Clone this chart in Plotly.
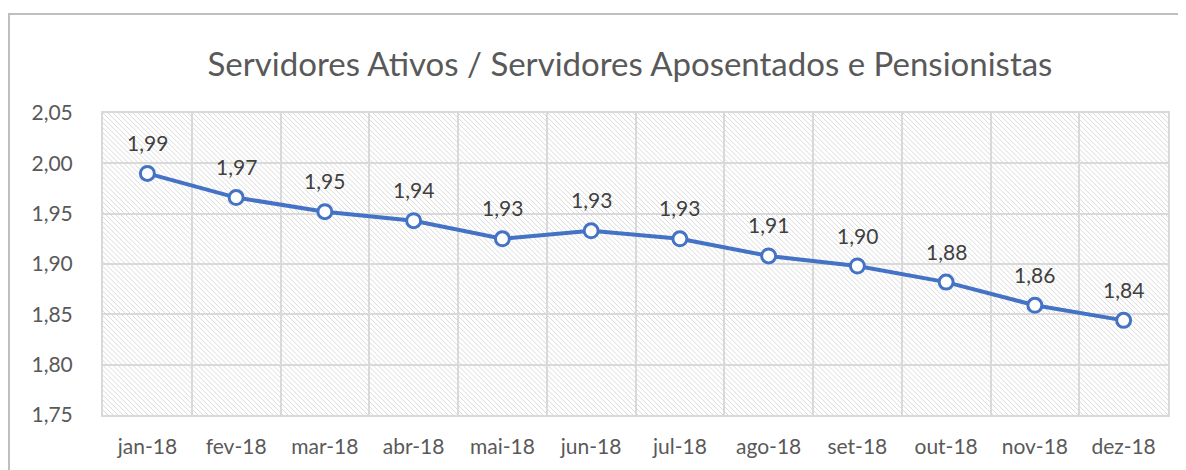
import plotly.graph_objects as go

months = ["jan-18", "fev-18", "mar-18", "abr-18", "mai-18", "jun-18",
          "jul-18", "ago-18", "set-18", "out-18", "nov-18", "dez-18"]
ratio = [1.990, 1.966, 1.952, 1.943, 1.925, 1.933,
         1.925, 1.908, 1.898, 1.882, 1.859, 1.844]
y_ticks = [1.75, 1.80, 1.85, 1.90, 1.95, 2.00, 2.05]

# page has an 8px body margin, so the figure is laid out 8px smaller
W, H = 1178, 462
L, R, T, B = 95, 18, 105, 52
pw, ph = W - L - R, H - T - B

FONT = "Lato"
GREY = "#595959"
BLUE = "#4472C4"

svg = (
    f"<svg xmlns='http://www.w3.org/2000/svg' width='{pw}' height='{ph}' viewBox='0 0 {pw} {ph}' preserveAspectRatio='none'>"
    "<defs><pattern id='p' patternUnits='userSpaceOnUse' width='5' height='5'>"
    "<path d='M-1,-1 L6,6 M-1,4 L1,6 M4,-1 L6,1' stroke='%23dadada' stroke-width='1'/>"
    "</pattern></defs>"
    f"<rect width='{pw}' height='{ph}' fill='white'/>"
    f"<rect width='{pw}' height='{ph}' fill='url(%23p)'/></svg>"
)
src = "data:image/svg+xml;utf8," + svg

fig = go.Figure()
fig.add_trace(go.Scatter(
    x=months, y=ratio, mode="lines+markers",
    line=dict(color=BLUE, width=4),
    marker=dict(size=14, color="white", line=dict(color=BLUE, width=3)),
    hoverinfo="skip", showlegend=False,
))

for m, v in zip(months, ratio):
    fig.add_annotation(x=m, y=v, text=f"{v:.2f}".replace(".", ","),
                       showarrow=False, yshift=31,
                       font=dict(family=FONT, size=21, color="#404040"))

fig.add_layout_image(dict(
    source=src, xref="paper", yref="paper", x=0, y=1, sizex=1, sizey=1,
    xanchor="left", yanchor="top", sizing="stretch", layer="below",
))

# outer chart border
fig.add_shape(type="rect", xref="paper", yref="paper",
              x0=(1 - L) / pw, x1=1.2, y0=-0.5, y1=(H - B - 5) / ph,
              line=dict(color="#bfbfbf", width=2), fillcolor="rgba(0,0,0,0)",
              layer="below")

fig.update_layout(
    width=W, height=H,
    margin=dict(l=L, r=R, t=T, b=B),
    paper_bgcolor="white", plot_bgcolor="rgba(0,0,0,0)",
    separators=",.",
    title=dict(text="Servidores Ativos / Servidores Aposentados e Pensionistas",
               x=(622 - L) / pw, xref="paper", xanchor="center",
               y=1 - 56 / H, yanchor="middle",
               font=dict(family=FONT, size=33, color=GREY)),
    font=dict(family=FONT, color=GREY),
)
fig.update_xaxes(
    type="category", range=[-0.5, 11.5], tickson="boundaries",
    showgrid=True, gridcolor="#d9d9d9", gridwidth=2,
    showline=True, linecolor="#d9d9d9", linewidth=2, mirror=True,
    ticks="", ticklabelstandoff=12, tickfont=dict(family=FONT, size=21, color=GREY),
)
fig.update_yaxes(
    range=[1.75, 2.05], tickvals=y_ticks, tickformat=".2f",
    showgrid=True, gridcolor="#d9d9d9", gridwidth=2, zeroline=False,
    showline=True, linecolor="#d9d9d9", linewidth=2, mirror=True,
    ticks="", ticklabelstandoff=24, tickfont=dict(family=FONT, size=21, color=GREY),
)

fig.write_html("out.html")
